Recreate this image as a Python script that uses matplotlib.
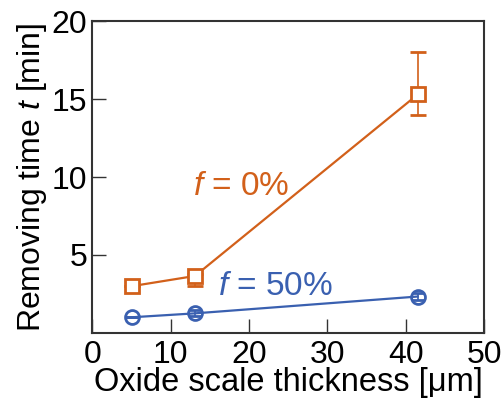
import matplotlib.pyplot as plt

plt.rcParams['font.family'] = ['Liberation Sans', 'DejaVu Sans']
plt.rcParams['mathtext.fontset'] = 'custom'
plt.rcParams['mathtext.it'] = 'Liberation Sans:italic'
plt.rcParams['mathtext.rm'] = 'Liberation Sans'

# data
thickness = [5.1, 13.1, 41.5]
t_f0 = [3.0, 3.65, 15.3]
t_f0_lo = [0.0, 0.65, 1.3]
t_f0_hi = [0.0, 0.15, 2.7]
t_f50 = [1.0, 1.25, 2.33]
t_f50_err = [0.0, 0.2, 0.2]

orange = "#d2601a"
blue = "#3a60b0"

fig = plt.figure(figsize=(5.04, 4.01), dpi=100)
ax = fig.add_axes([0.183, 0.17, 0.778, 0.777])

ax.errorbar(thickness, t_f0, yerr=[t_f0_lo, t_f0_hi], color=orange, marker="s",
            ms=10.5, mfc="white", mew=2, lw=1.6, capsize=6, elinewidth=1.2, capthick=1.2)
ax.errorbar(thickness, t_f50, yerr=t_f50_err, color=blue, marker="o",
            ms=10, mfc="none", mew=2, lw=1.6, capsize=4, elinewidth=1.2, capthick=1.2)

ax.text(12.8, 9.4, "$f$ = 0%", color=orange, fontsize=24, va="center")
ax.text(16.0, 3.0, "$f$ = 50%", color=blue, fontsize=24, va="center")

ax.set_xlim(0, 50)
ax.set_ylim(0, 20)
ax.set_xticks([0, 10, 20, 30, 40, 50])
ax.set_yticks([5, 10, 15, 20])
ax.tick_params(direction="in", length=10, width=1, labelsize=23, color="#333333")
ax.tick_params(axis="x", pad=5)
for s in ax.spines.values():
    s.set_color("#333333")
    s.set_linewidth(1.5)

ax.set_xlabel("Oxide scale thickness [μm]", fontsize=23.5, labelpad=-2)
ax.set_ylabel("Removing time $t$ [min]", fontsize=23, labelpad=2)

fig.savefig("out.png")
